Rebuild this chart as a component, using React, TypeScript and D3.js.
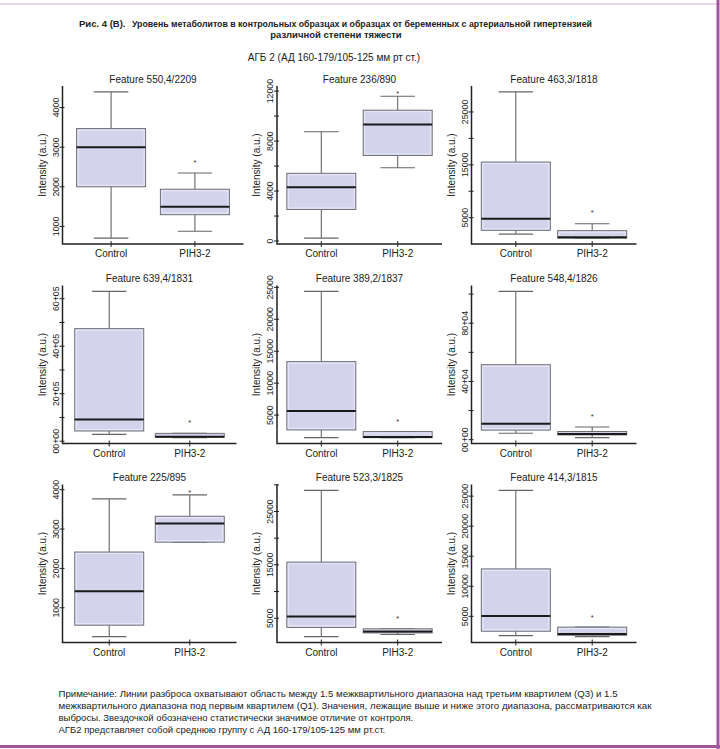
import * as d3 from "d3";

const titleLead = "Рис. 4 (В).";
const titleMain = "Уровень метаболитов в контрольных образцах и образцах от беременных с артериальной гипертензией";
const titleSecond = "различной степени тяжести";
const subtitle = "АГБ 2 (АД 160-179/105-125 мм рт ст.)";
const footnote = [
  "Примечание: Линии разброса охватывают область между 1.5 межквартильного диапазона над третьим квартилем (Q3) и 1.5",
  "межквартильного диапазона под первым квартилем (Q1). Значения, лежащие выше и ниже этого диапазона, рассматриваются как",
  "выбросы. Звездочкой обозначено статистически значимое отличие от контроля.",
  "АГБ2 представляет собой среднюю группу с АД 160-179/105-125 мм рт.ст.",
];

const features = [
  "Feature 550,4/2209", "Feature 236/890", "Feature 463,3/1818",
  "Feature 639,4/1831", "Feature 389,2/1837", "Feature 548,4/1826",
  "Feature 225/895", "Feature 523,3/1825", "Feature 414,3/1815",
];
const groups = ["Control", "PIH3-2"];

// [lower whisker, Q1, median, Q3, upper whisker]
const controlStats = [
  [704, 2000, 3000, 3469, 4395],
  [230, 2525, 4310, 5420, 8750],
  [1900, 2610, 4810, 15520, 28800],
  [28600, 43000, 91400, 474000, 631000],
  [1470, 2680, 5630, 13370, 24370],
  [4450, 6560, 11000, 51500, 101900],
  [267, 558, 1417, 2417, 3767],
  [1550, 3280, 5320, 15510, 28960],
  [1790, 2520, 5060, 12890, 25960],
];
const pihStats = [
  [877, 1296, 1494, 1938, 2346],
  [5870, 6850, 9320, 10470, 11590],
  [1130, 1130, 1320, 2550, 3840],
  [15000, 17000, 19000, 33000, 33000],
  [1470, 1470, 1580, 2420, 2420],
  [1400, 3280, 3980, 5620, 8670],
  [2667, 2667, 3142, 3325, 3867],
  [1940, 2250, 2510, 3020, 3020],
  [1620, 1850, 2070, 3200, 3200],
];
// significance asterisk above PIH3-2
const starValues = [2667, 11940, 6230, 85700, 4320, 16900, 3983, 5320, 5170];

const yTicks = [
  [1000, 2000, 3000, 4000],
  [0, 2000, 4000, 6000, 8000, 10000, 12000],
  [5000, 10000, 15000, 20000, 25000],
  [0, 100000, 200000, 300000, 400000, 500000, 600000],
  [5000, 10000, 15000, 20000, 25000],
  [0, 20000, 40000, 60000, 80000, 100000],
  [1000, 2000, 3000, 4000],
  [5000, 10000, 15000, 20000, 25000, 30000],
  [5000, 10000, 15000, 20000, 25000],
];
const yTickLabels = [
  ["1000", "2000", "3000", "4000"],
  ["0", "", "4000", "", "8000", "", "12000"],
  ["5000", "", "15000", "", "25000"],
  ["00+00", "", "20+05", "", "40+05", "", "60+05"],
  ["5000", "10000", "15000", "20000", "25000"],
  ["00+00", "", "40+04", "", "80+04", ""],
  ["1000", "2000", "3000", "4000"],
  ["5000", "", "15000", "", "25000", ""],
  ["5000", "10000", "15000", "20000", "25000"],
];

const W = 720;
const H = 749;
const FONT = "'Liberation Sans', Arial, sans-serif";
const colLeft = [62.5, 277, 471.5];
const plotWidths = [181, 165, 165, 174, 165, 165, 174, 165, 165];
const rowBottom = [244, 443.5, 642.5];
const plotH = 158;
const boxW = 69;
const ink = "#222";

function Panel({ i }: { i: number }) {
  const left = colLeft[i % 3];
  const right = left + plotWidths[i];
  const bottom = rowBottom[Math.floor(i / 3)];
  const top = bottom - plotH;

  const stats = [controlStats[i], pihStats[i]];
  const all = [...controlStats[i], ...pihStats[i], starValues[i]];
  const lo = d3.min(all)!;
  const hi = d3.max(all)!;
  const pad = (hi - lo) * 0.04;

  const y = d3.scaleLinear().domain([lo - pad, hi + pad]).range([bottom, top]);
  const x = d3.scalePoint<string>().domain(groups).range([left, right]).padding(0.58);

  const ticks = yTicks[i]
    .map((v, k) => ({ v, label: yTickLabels[i][k] }))
    .filter((t) => t.v >= y.domain()[0] && t.v <= y.domain()[1]);

  return (
    <g>
      <text x={(left + right) / 2} y={bottom - 161.5} textAnchor="middle" fontSize={10} fill={ink}>
        {features[i]}
      </text>

      {groups.map((g, k) => {
        const cx = x(g)!;
        const [wl, q1, med, q3, wh] = stats[k];
        return (
          <g key={g}>
            <line x1={cx} x2={cx} y1={y(q3)} y2={y(wh)} stroke="#666" strokeWidth={1.1} />
            <line x1={cx} x2={cx} y1={y(q1)} y2={y(wl)} stroke="#666" strokeWidth={1.1} />
            <line x1={cx - boxW / 4} x2={cx + boxW / 4} y1={y(wh)} y2={y(wh)} stroke="#666" strokeWidth={1.1} />
            <line x1={cx - boxW / 4} x2={cx + boxW / 4} y1={y(wl)} y2={y(wl)} stroke="#666" strokeWidth={1.1} />
            <rect x={cx - boxW / 2} y={y(q3)} width={boxW} height={Math.max(0.5, y(q1) - y(q3))}
              fill="#d3d3ec" stroke="#6e6e78" strokeWidth={1} />
            {y(q1) - y(q3) > 4 && (
              <rect x={cx - boxW / 2 + 1.5} y={y(q3) + 1.5} width={boxW - 3} height={y(q1) - y(q3) - 3}
                fill="none" stroke="#ececf8" strokeWidth={0.9} />
            )}
            <line x1={cx - boxW / 2} x2={cx + boxW / 2} y1={y(med)} y2={y(med)} stroke="#1a1a1a" strokeWidth={2} />
            <line x1={cx} x2={cx} y1={bottom - 3} y2={bottom + 3} stroke={ink} strokeWidth={1} />
            <text x={cx} y={bottom + 13} textAnchor="middle" fontSize={10} fill={ink}>{g}</text>
          </g>
        );
      })}

      <text x={x(groups[1])!} y={y(starValues[i]) + 4.2} textAnchor="middle" fontSize={7.5} fill="#333">*</text>

      {ticks.map((t) => (
        <g key={t.v}>
          <line x1={left - 3} x2={left + 2} y1={y(t.v)} y2={y(t.v)} stroke={ink} strokeWidth={1} />
          {t.label && (
            <text transform={`translate(${left - 4},${y(t.v)}) rotate(-90) scale(0.9,1)`} textAnchor="middle" fontSize={9.8} fill={ink}>
              {t.label}
            </text>
          )}
        </g>
      ))}

      <text transform={`translate(${left - 17},${(top + bottom) / 2}) rotate(-90)`} textAnchor="middle" fontSize={10} fill={ink}>
        Intensity (a.u.)
      </text>

      <path d={`M${left},${top}V${bottom}H${right}`} fill="none" stroke={ink} strokeWidth={1.5} />
    </g>
  );
}

export default function App() {
  return (
    <svg width={W} height={H} viewBox={`0 0 ${W} ${H}`}
      style={{ position: "absolute", left: 0, top: 0, background: "#fff" }} fontFamily={FONT}>
      <rect width={W} height={H} fill="#fff" />
      <line x1={0} x2={W} y1={4} y2={4} stroke="#d8a8d0" strokeWidth={1.2} />
      <line x1={718} x2={718} y1={0} y2={H} stroke="#a0569c" strokeWidth={3} />
      <line x1={0} x2={W} y1={746.5} y2={746.5} stroke="#a0569c" strokeWidth={3} />

      <text x={79} y={26.5} fontSize={9.5} fontWeight="bold" fill={ink}>{titleLead}</text>
      <text x={132} y={26.5} fontSize={9.5} fontWeight="bold" fill={ink} textLength={460} lengthAdjust="spacingAndGlyphs">
        {titleMain}
      </text>
      <text x={336} y={37.5} fontSize={9.5} fontWeight="bold" fill={ink} textAnchor="middle">{titleSecond}</text>
      <text x={334} y={60.5} fontSize={10} fill={ink} textAnchor="middle">{subtitle}</text>

      {features.map((_, i) => <Panel key={i} i={i} />)}

      {footnote.map((line, k) => (
        <text key={k} x={58.5} y={697 + k * 12} fontSize={9.5} fill={ink}
          {...(k < 2 ? { textLength: k === 0 ? 559 : 593, lengthAdjust: "spacingAndGlyphs" } : {})}>
          {line}
        </text>
      ))}
    </svg>
  );
}
